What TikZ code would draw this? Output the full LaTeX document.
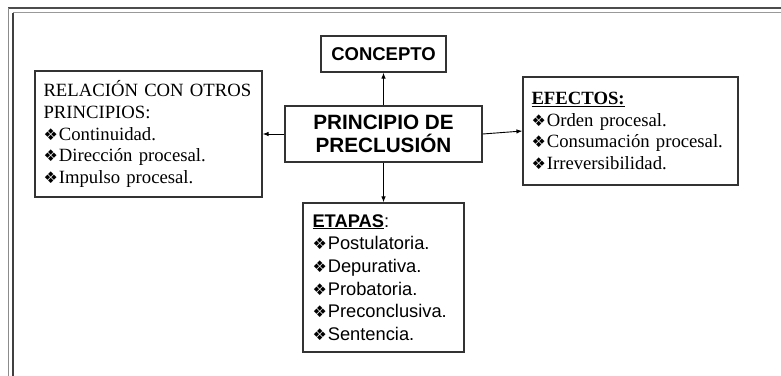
\documentclass[tikz,border=0pt]{standalone}
\usepackage{fontspec}
\setmainfont{Liberation Serif}
\newfontfamily\arialf{Liberation Sans}
\newfontfamily\dejavuf{DejaVu Sans}
\usetikzlibrary{arrows.meta}
\newcommand{\bulx}{{\dejavuf\fontsize{16}{16}\selectfont ❖}\kern1pt}
\begin{document}
\begin{tikzpicture}[x=1pt,y=-1pt,
  box/.style={draw=black!80, line width=1.2pt, rectangle, inner sep=0pt},
  tbox/.style={box, inner xsep=8.5pt, align=left},
  conn/.style={line width=0.9pt, -{Latex[length=6pt,width=4.5pt]}},
  serifbody/.style={font=\fontsize{18.7}{21.7}\selectfont},
  sansbody/.style={font=\arialf\fontsize{18.3}{22.7}\selectfont}]
\useasboundingbox (0,0) rectangle (781,375);
% frame
\draw[black!70, line width=1.2pt] (8,8) -- (790,8);
\draw[black!45, line width=1.2pt] (8.5,8) -- (8.5,390);
\draw[black!40, line width=1.2pt] (13,12.5) -- (790,12.5);
\draw[black!75, line width=1.2pt] (13,12.5) -- (13,390);
% nodes
\node[box, minimum width=125pt, minimum height=36pt, font=\arialf\bfseries\fontsize{18.5}{20}\selectfont] (con) at (383.5,54) {CONCEPTO};
\node[box, minimum width=197pt, minimum height=56pt, align=center, font=\arialf\bfseries\fontsize{20.7}{23.5}\selectfont] (pri) at (383.5,134) {PRINCIPIO DE\\PRECLUSIÓN};
\node[tbox, serifbody, text width=210pt, minimum height=126pt] (rel) at (148.5,134)
 {RELACIÓN CON OTROS\\PRINCIPIOS:\\\bulx Continuidad.\\\bulx Dirección procesal.\\\bulx Impulso procesal.};
\node[tbox, serifbody, text width=198pt, minimum height=108pt] (eff) at (630.5,131)
 {\textbf{\underline{EFECTOS:}}\\\bulx Orden procesal.\\\bulx Consumación procesal.\\\bulx Irreversibilidad.};
\node[tbox, sansbody, inner xsep=9.5pt, text width=142pt, minimum height=149pt] (eta) at (383.5,277.5)
 {\textbf{\underline{ETAPAS}}:\\\bulx Postulatoria.\\\bulx Depurativa.\\\bulx Probatoria.\\\bulx Preconclusiva.\\\bulx Sentencia.};
% connectors
\draw[conn] (pri.north) -- (con.south);
\draw[conn] (pri.south) -- (eta.north);
\draw[conn] (pri.west) -- (rel.east);
\draw[conn] (pri.east) -- (eff.west);
\end{tikzpicture}
\end{document}
